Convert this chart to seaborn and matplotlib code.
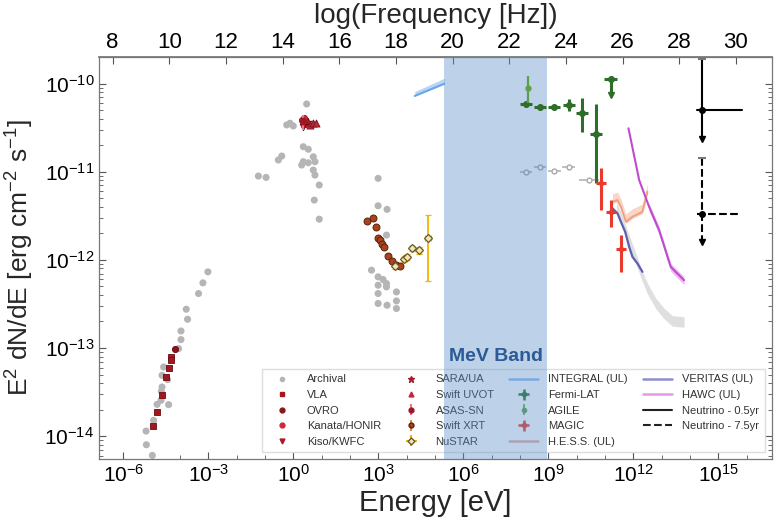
import numpy as np
import pandas as pd
import matplotlib
matplotlib.use("Agg")
import matplotlib.pyplot as plt
import matplotlib.ticker as mticker
from matplotlib.lines import Line2D
import seaborn as sns

# ---------------- data (log10 E [eV], log10 E^2dN/dE [erg cm^-2 s^-1]) ----------------
arch_logE = [-3.018, -3.194, -3.349, -3.782, -3.736, -3.968, -3.968, -4.053, -4.581, -4.637,
             -4.44, -4.637, -4.662, -4.673, -4.405, -4.813, -4.933, -5.201, -5.19, -4.979,
             0.468, -0.236, -0.12, -0.004, 0.349, 0.525, -0.532, -0.412, 0.349, 0.525,
             0.292, 0.701, 0.761, 0.701, 0.761, -1.236, -0.965, 0.912, 0.736, 0.912,
             2.989, 2.989, 3.306, 3.285, 2.757, 2.989, 3.165, 3.285, 2.989, 3.285,
             2.989, 3.637, 2.989, 3.306, 3.637, 3.637]
arch_logF = [-12.136, -12.261, -12.382, -12.56, -12.674, -12.807, -12.905, -13.007, -13.216, -13.31,
             -13.359, -13.443, -13.492, -13.594, -13.643, -13.64, -13.822, -13.943, -14.098, -14.219,
             -10.231, -10.469, -10.45, -10.481, -10.716, -10.745, -10.867, -10.822, -10.886, -10.898,
             -10.924, -10.83, -10.886, -10.981, -11.038, -11.049, -11.064, -11.151, -11.322, -11.538,
             -11.075, -11.386, -11.427, -11.719, -12.117, -12.193, -12.223, -12.268, -12.288, -12.307,
             -12.382, -12.364, -12.495, -12.515, -12.466, -12.552]

arch_gam_logE = [8.215, 8.708, 9.211, 9.715, 10.44]
arch_gam_logF = [-11.0, -10.95, -10.99, -10.95, -11.094]
arch_gam_xerr = [0.22, 0.22, 0.22, 0.22, 0.35]

vla_logE = [-4.31, -4.31, -4.405, -4.486, -4.627, -4.813, -4.954]
vla_logF = [-13.102, -13.14, -13.227, -13.33, -13.53, -13.727, -13.886]
ovro_logE = [-4.169]
ovro_logF = [-13.007]
kanata_logE = [0.292, 0.408, 0.36]
kanata_logF = [-10.413, -10.458, -10.39]
kiso_logE = [0.349]
kiso_logF = [-10.489]
sara_logE = [0.525]
sara_logF = [-10.432]
uvot_logE = [0.585, 0.701, 0.796]
uvot_logF = [-10.47, -10.45, -10.45]
asas_logE = [0.349]
asas_logF = [-10.424]
asas_lo = [0.103]
asas_hi = [0.068]

xrt_logE = [2.602, 2.792, 2.908, 2.989, 3.049, 3.144, 3.19, 3.342, 3.496, 3.637, 3.754]
xrt_logF = [-11.557, -11.53, -11.625, -11.757, -11.776, -11.822, -11.859, -11.958, -12.011, -12.06, -12.072]

nustar_logE = [3.60, 3.894, 4.011, 4.187, 4.433, 4.75]
nustar_logF = [-12.07, -11.995, -11.966, -11.87, -11.89, -11.753]
nustar_lo = [0.03, 0.03, 0.03, 0.03, 0.04, 0.483]
nustar_hi = [0.03, 0.03, 0.03, 0.03, 0.04, 0.261]
nustar_xerr = [0.05, 0.05, 0.05, 0.06, 0.08, 0.10]

integral_logE = [4.282, 5.32]
integral_lo = [-10.14, -10.003]
integral_hi = [-10.091, -9.939]

fermi_logE = [8.215, 8.708, 9.211, 9.715, 10.197, 10.69]
fermi_logF = [-10.234, -10.268, -10.268, -10.242, -10.336, -10.572]
fermi_lo = [0.03, 0.03, 0.03, 0.068, 0.209, 0.56]
fermi_hi = [0.03, 0.03, 0.03, 0.065, 0.17, 0.342]
fermi_ul_logE = [11.2]
fermi_ul_logF = [-9.95]
fermi_ul_top = [-9.92]
fermi_ul_tip = [-10.13]

agile_logE = [8.271]
agile_logF = [-10.052]
agile_lo = [0.171]
agile_hi = [0.139]

magic_logE = [10.856, 11.208, 11.56]
magic_logF = [-11.132, -11.455, -11.878]
magic_lo = [0.303, 0.17, 0.258]
magic_hi = [0.171, 0.133, 0.158]

hess_logE = [11.264, 11.44, 11.56, 11.736, 11.968, 12.32, 12.496]
hess_logF = [-11.341, -11.322, -11.398, -11.568, -11.511, -11.455, -11.227]

veritas_logE = [11.264, 11.44, 11.56, 11.711, 11.852, 11.968, 12.144, 12.32]
veritas_logF = [-11.416, -11.473, -11.568, -11.682, -11.852, -11.966, -12.041, -12.136]

greyband_logE = [11.40, 11.56, 11.852, 12.32, 12.496, 12.792, 13.085, 13.377, 13.789]
greyband_logF = [-11.40, -11.52, -11.78, -12.19, -12.325, -12.495, -12.609, -12.693, -12.705]

hawc_logE = [11.827, 12.204, 12.556, 12.908, 13.32, 13.789]
hawc_logF = [-10.507, -11.094, -11.398, -11.663, -12.08, -12.231]

nu05_logE, nu05_logF = [14.43], [-10.299]
nu05_xlo, nu05_xhi, nu05_top, nu05_tip = [14.26], [15.82], [-9.72], [-10.632]
nu75_logE, nu75_logF = [14.43], [-11.481]
nu75_xlo, nu75_xhi, nu75_top, nu75_tip = [14.26], [15.79], [-10.848], [-11.795]

mev_band_logE = [5.32, 8.95]

x_major_exp = [-6, -3, 0, 3, 6, 9, 12, 15]
x_minor_exp = list(range(-6, 17))
y_major_exp = [-14, -13, -12, -11, -10]
freq_ticks = [8, 10, 12, 14, 16, 18, 20, 22, 24, 26, 28, 30]
LOG_H = 14.3835  # log10(1 / h[eV s])

# ---------------- style ----------------
sns.set_theme(style="ticks")
plt.rcParams["font.family"] = ["Liberation Sans", "DejaVu Sans"]
plt.rcParams["mathtext.fontset"] = "custom"
plt.rcParams["mathtext.rm"] = "Liberation Sans"
plt.rcParams["mathtext.it"] = "Liberation Sans:italic"
plt.rcParams["mathtext.bf"] = "Liberation Sans:bold"
plt.rcParams["mathtext.default"] = "regular"

P = lambda a: np.power(10.0, np.asarray(a, dtype=float))

def logerr(logv, lo, hi):
    v = P(logv)
    return np.vstack([v - P(np.asarray(logv) - np.asarray(lo)), P(np.asarray(logv) + np.asarray(hi)) - v])

fig = plt.figure(figsize=(7.8, 5.27), dpi=100)
ax = fig.add_axes([0.127, 0.129, 0.863, 0.763])
ax.set_xscale("log")
ax.set_yscale("log")

# MeV band
ax.axvspan(P(mev_band_logE[0]), P(mev_band_logE[1]), facecolor="#5b8fc9", alpha=0.40, lw=0, zorder=3)
ax.text(np.sqrt(P(mev_band_logE[0]) * P(mev_band_logE[1])), P(-13.094), "MeV Band",
        ha="center", va="center", fontsize=14, fontweight="bold", color="#2b5a94", zorder=4)

# archival
arch = pd.DataFrame({"E": P(arch_logE), "F": P(arch_logF)})
sns.scatterplot(data=arch, x="E", y="F", ax=ax, color="#b5b5b5", s=26, edgecolor="none", zorder=2)
ax.errorbar(P(arch_gam_logE), P(arch_gam_logF), xerr=logerr(arch_gam_logE, arch_gam_xerr, arch_gam_xerr),
            fmt="o", ms=3.5, mfc="white", mec="#a8a8a8", ecolor="#b5b5b5", elinewidth=1.2, zorder=2)

# radio / optical
def sc(lx, ly, color, marker, s, ec):
    d = pd.DataFrame({"E": P(lx), "F": P(ly)})
    sns.scatterplot(data=d, x="E", y="F", ax=ax, color=color, marker=marker, s=s,
                    edgecolor=ec, linewidth=0.6, zorder=5)

sc(vla_logE, vla_logF, "#a3171f", "s", 18, "#6b0d12")
sc(ovro_logE, ovro_logF, "#8c1419", "o", 20, "#5a0a0e")
sc(kanata_logE, kanata_logF, "#cc2a36", "o", 20, "#8a1520")
sc(kiso_logE, kiso_logF, "#b0172a", "v", 22, "#7a0f1c")
sc(sara_logE, sara_logF, "#a51d2d", "*", 36, "#6b0d12")
sc(uvot_logE, uvot_logF, "#c0283a", "^", 26, "#7a0f1c")
ax.errorbar(P(asas_logE), P(asas_logF), yerr=logerr(asas_logF, asas_lo, asas_hi), fmt="o", ms=4.5,
            color="#a01625", ecolor="#e8788a", elinewidth=1.5, zorder=6)

ax.errorbar(P(xrt_logE), P(xrt_logF), yerr=logerr(xrt_logF, [0.03] * len(xrt_logF), [0.03] * len(xrt_logF)),
            fmt="o", ms=5, mfc="#a8441c", mec="#5a2210", mew=0.7, ecolor="#e08a50", elinewidth=1.2, zorder=6)
ax.errorbar(P(nustar_logE), P(nustar_logF), yerr=logerr(nustar_logF, nustar_lo, nustar_hi),
            xerr=logerr(nustar_logE, nustar_xerr, nustar_xerr), fmt="D", ms=4.5, mfc="#f4e6b0",
            mec="#6b5a2a", mew=0.9, ecolor="#f2b400", elinewidth=1.3, capsize=2, zorder=6)

# INTEGRAL
ax.fill_between(P(integral_logE), P(integral_lo), P(integral_hi), color="#b7d5f5", lw=0, zorder=2)
sns.lineplot(x=P(integral_logE), y=P(integral_lo), ax=ax, color="#6aa6e8", lw=1.5, zorder=2)

# gamma rays
ax.errorbar(P(fermi_logE), P(fermi_logF), yerr=logerr(fermi_logF, fermi_lo, fermi_hi),
            xerr=logerr(fermi_logE, [0.21] * 6, [0.21] * 6), fmt="o", ms=4, color="#2e6e2a",
            elinewidth=2.2, zorder=6)
ax.errorbar(P(fermi_ul_logE), P(fermi_ul_logF), xerr=logerr(fermi_ul_logE, [0.22], [0.22]),
            fmt="o", ms=4, color="#2e6e2a", elinewidth=2.2, zorder=6)
ax.plot([P(fermi_ul_logE)[0]] * 2, [P(fermi_ul_top)[0], P(fermi_ul_tip)[0]], color="#2e6e2a", lw=2.2, zorder=6)
ax.plot(P(fermi_ul_logE), P(fermi_ul_tip), "v", color="#2e6e2a", ms=5, zorder=6)
ax.errorbar(P(agile_logE), P(agile_logF), yerr=logerr(agile_logF, agile_lo, agile_hi), fmt="o", ms=3.5,
            color="#5ea04a", elinewidth=1.6, zorder=7)
ax.errorbar(P(magic_logE), P(magic_logF), yerr=logerr(magic_logF, magic_lo, magic_hi),
            xerr=logerr(magic_logE, [0.17] * 3, [0.17] * 3), fmt="o", ms=3, color="#ea3a2e",
            elinewidth=2.2, zorder=6)

# UL curves
ax.fill_between(P(greyband_logE), P(np.array(greyband_logF) - 0.06), P(np.array(greyband_logF) + 0.06),
                color="#d8d8d8", alpha=0.8, lw=0, zorder=2)
ax.fill_between(P(hess_logE), P(np.array(hess_logF) - 0.02), P(np.array(hess_logF) + 0.09),
                color="#f9d2c2", alpha=0.9, lw=0, zorder=2)
sns.lineplot(x=P(hess_logE), y=P(hess_logF), ax=ax, color="#f0a080", lw=1.4, zorder=3)
sns.lineplot(x=P(veritas_logE), y=P(veritas_logF), ax=ax, color="#5d5fb0", lw=1.6, zorder=3)
ax.fill_between(P(hawc_logE[2:]), P(np.array(hawc_logF[2:]) - 0.05), P(np.array(hawc_logF[2:]) + 0.04),
                color="#eab3f0", alpha=0.9, lw=0, zorder=2)
sns.lineplot(x=P(hawc_logE), y=P(hawc_logF), ax=ax, color="#c04ad0", lw=1.5, zorder=3)

# neutrinos
for lx, ly, xlo, xhi, top, tip, ls in [(nu05_logE, nu05_logF, nu05_xlo, nu05_xhi, nu05_top, nu05_tip, "-"),
                                       (nu75_logE, nu75_logF, nu75_xlo, nu75_xhi, nu75_top, nu75_tip, "--")]:
    ax.plot([P(xlo)[0], P(xhi)[0]], [P(ly)[0]] * 2, color="black", lw=1.5, ls=ls, zorder=6)
    ax.plot([P(lx)[0]] * 2, [P(top)[0], P(tip)[0]], color="black", lw=1.5, ls=ls, zorder=6)
    ax.plot(P(lx), P(top), "_", color="#777777", ms=6, mew=1.5, zorder=6)
    ax.plot(P(lx), P(tip), "v", color="black", ms=5, zorder=6)
    ax.plot(P(lx), P(ly), "o", color="black", ms=4, zorder=7)

# axes
ax.set_xlim(P(-6.86), P(16.9))
ax.set_ylim(P(-14.26), P(-9.697))
fmt10 = mticker.FuncFormatter(lambda v, p: r"$10^{%d}$" % round(np.log10(v)))
ax.xaxis.set_major_locator(mticker.FixedLocator(P(x_major_exp)))
ax.xaxis.set_minor_locator(mticker.FixedLocator(P(x_minor_exp)))
ax.xaxis.set_major_formatter(fmt10)
ax.xaxis.set_minor_formatter(mticker.NullFormatter())
ax.yaxis.set_major_locator(mticker.FixedLocator(P(y_major_exp)))
y_minor = [m * 10.0 ** e for e in range(-15, -9) for m in range(2, 10)
           if P(-14.26) < m * 10.0 ** e < P(-9.697)]
ax.yaxis.set_minor_locator(mticker.FixedLocator(y_minor))
ax.yaxis.set_major_formatter(fmt10)
ax.yaxis.set_minor_formatter(mticker.NullFormatter())
ax.tick_params(which="both", direction="in", colors="#555555", labelcolor="black", right=True, top=False)
ax.tick_params(which="major", length=5, width=0.8, labelsize=15)
ax.tick_params(which="minor", length=3, width=0.6)
for s in ax.spines.values():
    s.set_color("#777777")
    s.set_linewidth(0.9)
ax.set_xlabel("Energy [eV]", fontsize=21, labelpad=2)
ax.set_ylabel(r"E$^2$ dN/dE [erg cm$^{-2}$ s$^{-1}$]", fontsize=19, labelpad=6)

sec = ax.secondary_xaxis("top", functions=(lambda E: np.log10(np.maximum(E, 1e-300)) + LOG_H,
                                            lambda f: np.power(10.0, f - LOG_H)))
sec.xaxis.set_major_locator(mticker.FixedLocator(freq_ticks))
sec.xaxis.set_major_formatter(mticker.FixedFormatter([str(t) for t in freq_ticks]))
sec.xaxis.set_minor_locator(mticker.NullLocator())
sec.tick_params(which="major", direction="in", length=5, width=0.8, colors="#555555", labelcolor="black",
                labelsize=16, pad=3)
sec.spines["top"].set_color("#777777")
sec.set_xlabel("log(Frequency [Hz])", fontsize=20, labelpad=6)

# legend
H = []
H.append(Line2D([], [], ls="none", marker="o", ms=3, color="#b5b5b5", label="Archival"))
H.append(Line2D([], [], ls="none", marker="s", ms=3.5, color="#a3171f", label="VLA"))
H.append(Line2D([], [], ls="none", marker="o", ms=3.5, color="#8c1419", label="OVRO"))
H.append(Line2D([], [], ls="none", marker="o", ms=3.5, color="#cc2a36", label="Kanata/HONIR"))
H.append(Line2D([], [], ls="none", marker="v", ms=3.5, color="#b0172a", label="Kiso/KWFC"))
H.append(Line2D([], [], ls="none", marker="*", ms=5, color="#a51d2d", label="SARA/UA"))
H.append(Line2D([], [], ls="none", marker="^", ms=3.5, color="#c0283a", label="Swift UVOT"))
H.append(ax.errorbar([], [], yerr=[], fmt="o", ms=3.5, color="#a01625", ecolor="#e8788a", label="ASAS-SN"))
H.append(ax.errorbar([], [], yerr=[], fmt="o", ms=3.5, mfc="#a8441c", mec="#5a2210", ecolor="#e08a50", label="Swift XRT"))
H.append(ax.errorbar([], [], yerr=[], xerr=[], fmt="D", ms=3.5, mfc="#f4e6b0", mec="#6b5a2a", ecolor="#f2b400", label="NuSTAR"))
H.append(Line2D([], [], color="#8fbdf0", lw=1.8, label="INTEGRAL (UL)"))
H.append(ax.errorbar([], [], yerr=[], xerr=[], fmt="o", ms=3, color="#2e6e2a", elinewidth=1.8, label="Fermi-LAT"))
H.append(ax.errorbar([], [], yerr=[], fmt="o", ms=3, color="#5ea04a", elinewidth=1.2, label="AGILE"))
H.append(ax.errorbar([], [], yerr=[], xerr=[], fmt="o", ms=3, color="#ea3a2e", elinewidth=1.8, label="MAGIC"))
H.append(Line2D([], [], color="#e8b0a8", lw=1.8, label="H.E.S.S. (UL)"))
H.append(Line2D([], [], color="#8c8cd0", lw=1.8, label="VERITAS (UL)"))
H.append(Line2D([], [], color="#e49ae8", lw=1.8, label="HAWC (UL)"))
H.append(Line2D([], [], color="#222222", lw=1.5, label="Neutrino - 0.5yr"))
H.append(Line2D([], [], color="#222222", lw=1.5, ls="--", label="Neutrino - 7.5yr"))
leg = ax.legend(handles=H, ncol=4, loc="lower right", bbox_to_anchor=(0.997, 0.003), fontsize=8,
                frameon=True, fancybox=False, edgecolor="#dddddd", framealpha=1.0,
                handlelength=2.6, columnspacing=1.4, labelspacing=0.5, borderpad=0.5, handletextpad=0.9)
for t in leg.get_texts():
    t.set_color("#333333")
leg.set_zorder(1)

fig.savefig("out.png", dpi=100)
